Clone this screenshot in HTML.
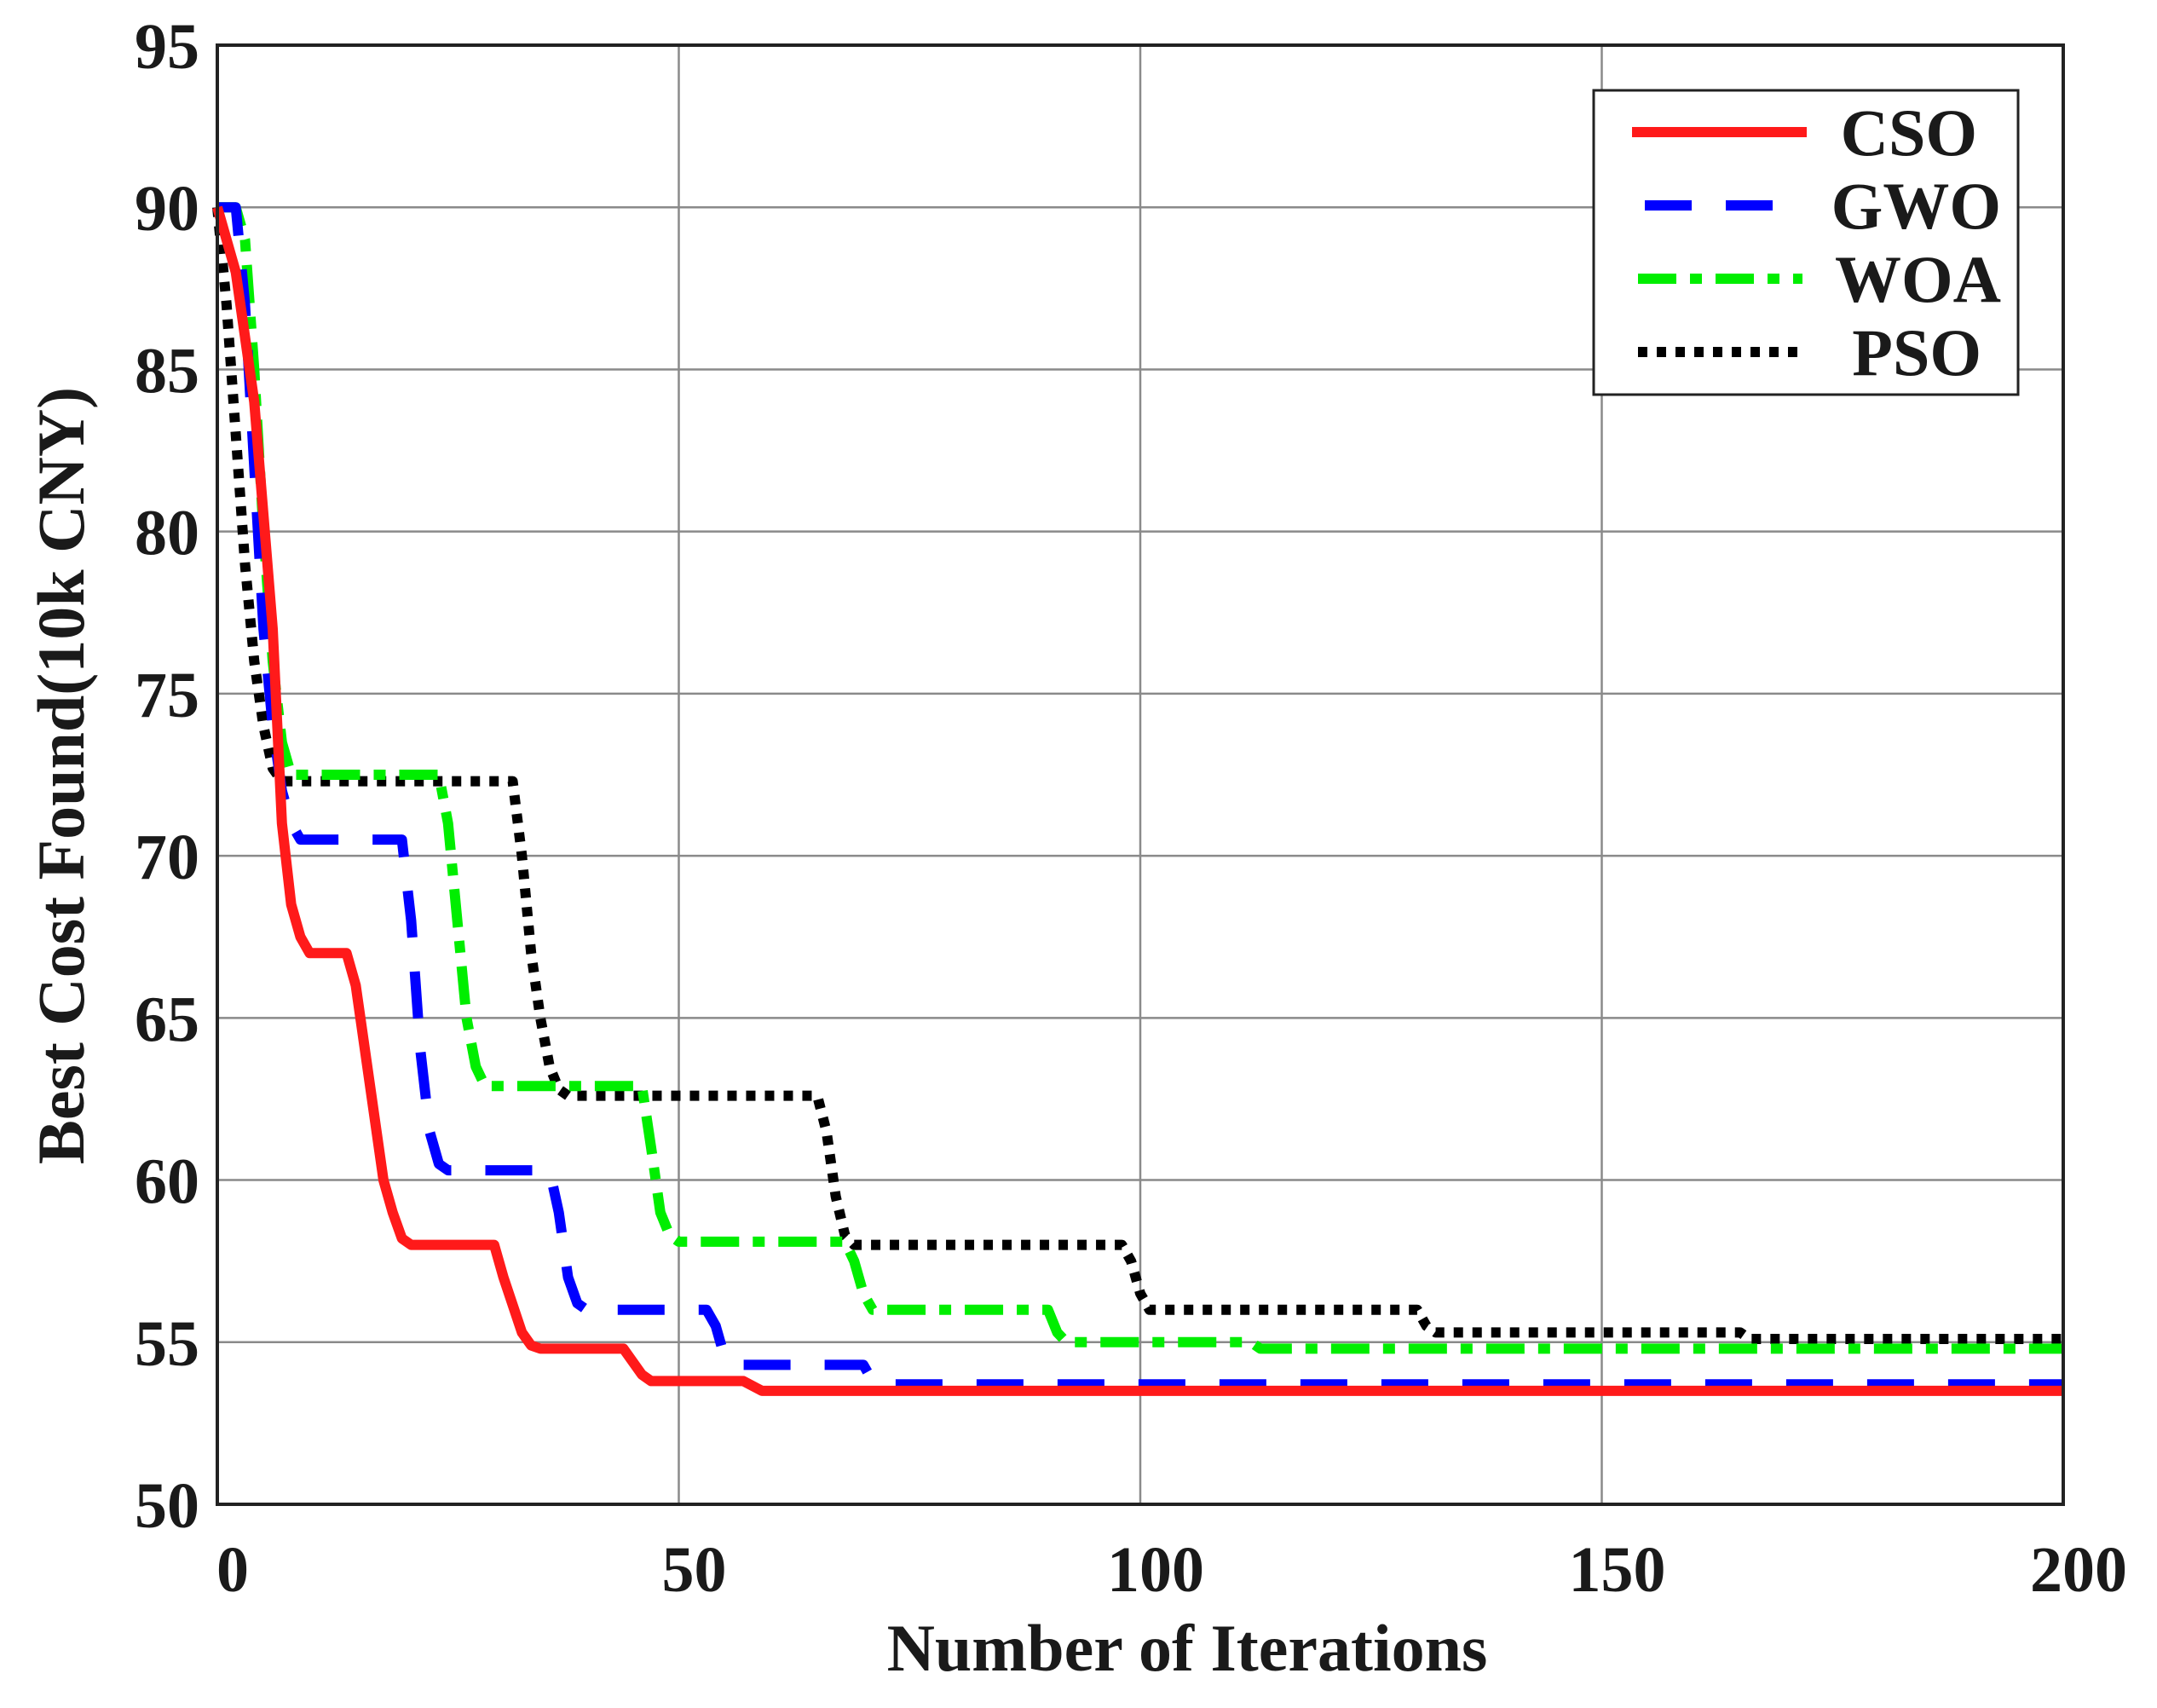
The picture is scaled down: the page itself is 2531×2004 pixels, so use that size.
<!DOCTYPE html>
<html><head><meta charset="utf-8"><style>
html,body{margin:0;padding:0;background:#fff}
svg{display:block}
text{font-family:"Liberation Serif",serif;font-weight:bold;fill:#1a1a1a}
</style></head><body>
<svg id="chart" width="2531" height="2004" viewBox="0 0 2531 2004" xmlns="http://www.w3.org/2000/svg">
<g id="grid"></g>
<g id="series"></g>
<rect x="255" y="53" width="2166" height="1712" fill="none" stroke="#222" stroke-width="4"/>
<g id="ticks"></g>
<text x="1393" y="1960" font-size="78" text-anchor="middle">Number of Iterations</text>
<text transform="translate(98,910) rotate(-90)" font-size="78" text-anchor="middle">Best Cost Found(10k CNY)</text>
<g>
<rect x="1870" y="106" width="498" height="357" fill="#fff" stroke="#222" stroke-width="3"/>
<line x1="1915" y1="155" x2="2120" y2="155" stroke="#ff1a1a" stroke-width="12"/>
<text x="2320" y="182" font-size="78" text-anchor="end">CSO</text>
<line x1="1930" y1="241" x2="2110" y2="241" stroke="#0000ff" stroke-width="12" stroke-dasharray="55,40"/>
<text x="2348" y="268" font-size="78" text-anchor="end">GWO</text>
<line x1="1922" y1="327" x2="2115" y2="327" stroke="#00ee00" stroke-width="12" stroke-dasharray="45,16,14,16"/>
<text x="2348" y="354" font-size="78" text-anchor="end">WOA</text>
<line x1="1922" y1="413" x2="2115" y2="413" stroke="#000" stroke-width="12" stroke-dasharray="11,11"/>
<text x="2325" y="440" font-size="78" text-anchor="end">PSO</text>
</g>
</svg>
<script>
const xTicks=[0,50,100,150,200];
const yTicks=[50,55,60,65,70,75,80,85,90,95];
const csoX=[0,2,4,6,7,8,9,10,14,15,16,18,19,20,21,30,31,33,34,35,44,46,47,57,59,200];
const csoY=[90,88,84,77,71,68.5,67.5,67,67,66,64,60,59,58.2,58,58,57,55.3,54.9,54.8,54.8,54,53.8,53.8,53.5,53.5];
const gwoX=[0,2,3,4,5,6,7,8,9,20,21,22,23,24,25,36,37,38,39,40,53,54,55,56,70,71,72,200];
const gwoY=[90,90,87,82,77,74,72,71,70.5,70.5,68,64,61.5,60.5,60.3,60.3,59,57,56.2,56,56,55.5,54.5,54.3,54.3,53.8,53.7,53.7];
const woaX=[0,2,3,4,5,6,7,8,24,25,26,27,28,29,46,47,48,49,50,68,69,70,71,90,91,92,112,113,200];
const woaY=[90,90,89,85,80,76,73.5,72.5,72.5,71,68,65,63.5,62.9,62.9,61,59,58.3,58.1,58.1,57.5,56.5,56,56,55.3,55,55,54.8,54.8];
const psoX=[0,1,2,3,4,5,6,7,32,33,34,35,36,37,38,65,66,67,68,69,98,99,100,101,130,131,132,165,166,200];
const psoY=[90,87,83,79,76,74,72.7,72.3,72.3,70,67,65,63.5,62.8,62.6,62.6,61.5,59.5,58.3,58,58,57.5,56.5,56,56,55.5,55.3,55.3,55.1,55.1];
const NS="http://www.w3.org/2000/svg";
const X0=255,X1=2421,Y0=1765,Y1=53;
function sx(v){return X0+(v-0)/(200-0)*(X1-X0);}
function sy(v){return Y0-(v-50)/(95-50)*(Y0-Y1);}
const grid=document.getElementById('grid'),ticks=document.getElementById('ticks'),ser=document.getElementById('series');
xTicks.forEach(t=>{
 const l=document.createElementNS(NS,'line');
 l.setAttribute('x1',sx(t));l.setAttribute('x2',sx(t));l.setAttribute('y1',Y1);l.setAttribute('y2',Y0);
 l.setAttribute('stroke','#8a8a8a');l.setAttribute('stroke-width','2.5');
 
 
 grid.appendChild(l);
 const tx=document.createElementNS(NS,'text');
 tx.setAttribute('x',sx(t)+18);tx.setAttribute('y',1867);tx.setAttribute('font-size','76');tx.setAttribute('text-anchor','middle');
 tx.textContent=t;
 
 
 ticks.appendChild(tx);
});
yTicks.forEach(t=>{
 const l=document.createElementNS(NS,'line');
 l.setAttribute('x1',X0);l.setAttribute('x2',X1);l.setAttribute('y1',sy(t));l.setAttribute('y2',sy(t));
 l.setAttribute('stroke','#8a8a8a');l.setAttribute('stroke-width','2.5');
 
 
 grid.appendChild(l);
 const tx=document.createElementNS(NS,'text');
 tx.setAttribute('x',234);tx.setAttribute('y',sy(t)+27);tx.setAttribute('font-size','76');tx.setAttribute('text-anchor','end');
 tx.textContent=t;
 
 
 ticks.appendChild(tx);
});
function drawLine(xs,ys,color,dash,name){
 const p=document.createElementNS(NS,'polyline');
 p.setAttribute('points',xs.map((x,i)=>sx(x)+','+sy(ys[i])).join(' '));
 p.setAttribute('fill','none');p.setAttribute('stroke',color);p.setAttribute('stroke-width','12');
 p.setAttribute('stroke-linejoin','round');
 if(dash)p.setAttribute('stroke-dasharray',dash);
 
 
 ser.appendChild(p);
}
drawLine(psoX,psoY,'#000','11,11','pso-line');
drawLine(woaX,woaY,'#00ee00','45,16,14,16','woa-line');
drawLine(gwoX,gwoY,'#0000ff','55,40','gwo-line');
drawLine(csoX,csoY,'#ff1a1a',null,'cso-line');
</script>
</body></html>
